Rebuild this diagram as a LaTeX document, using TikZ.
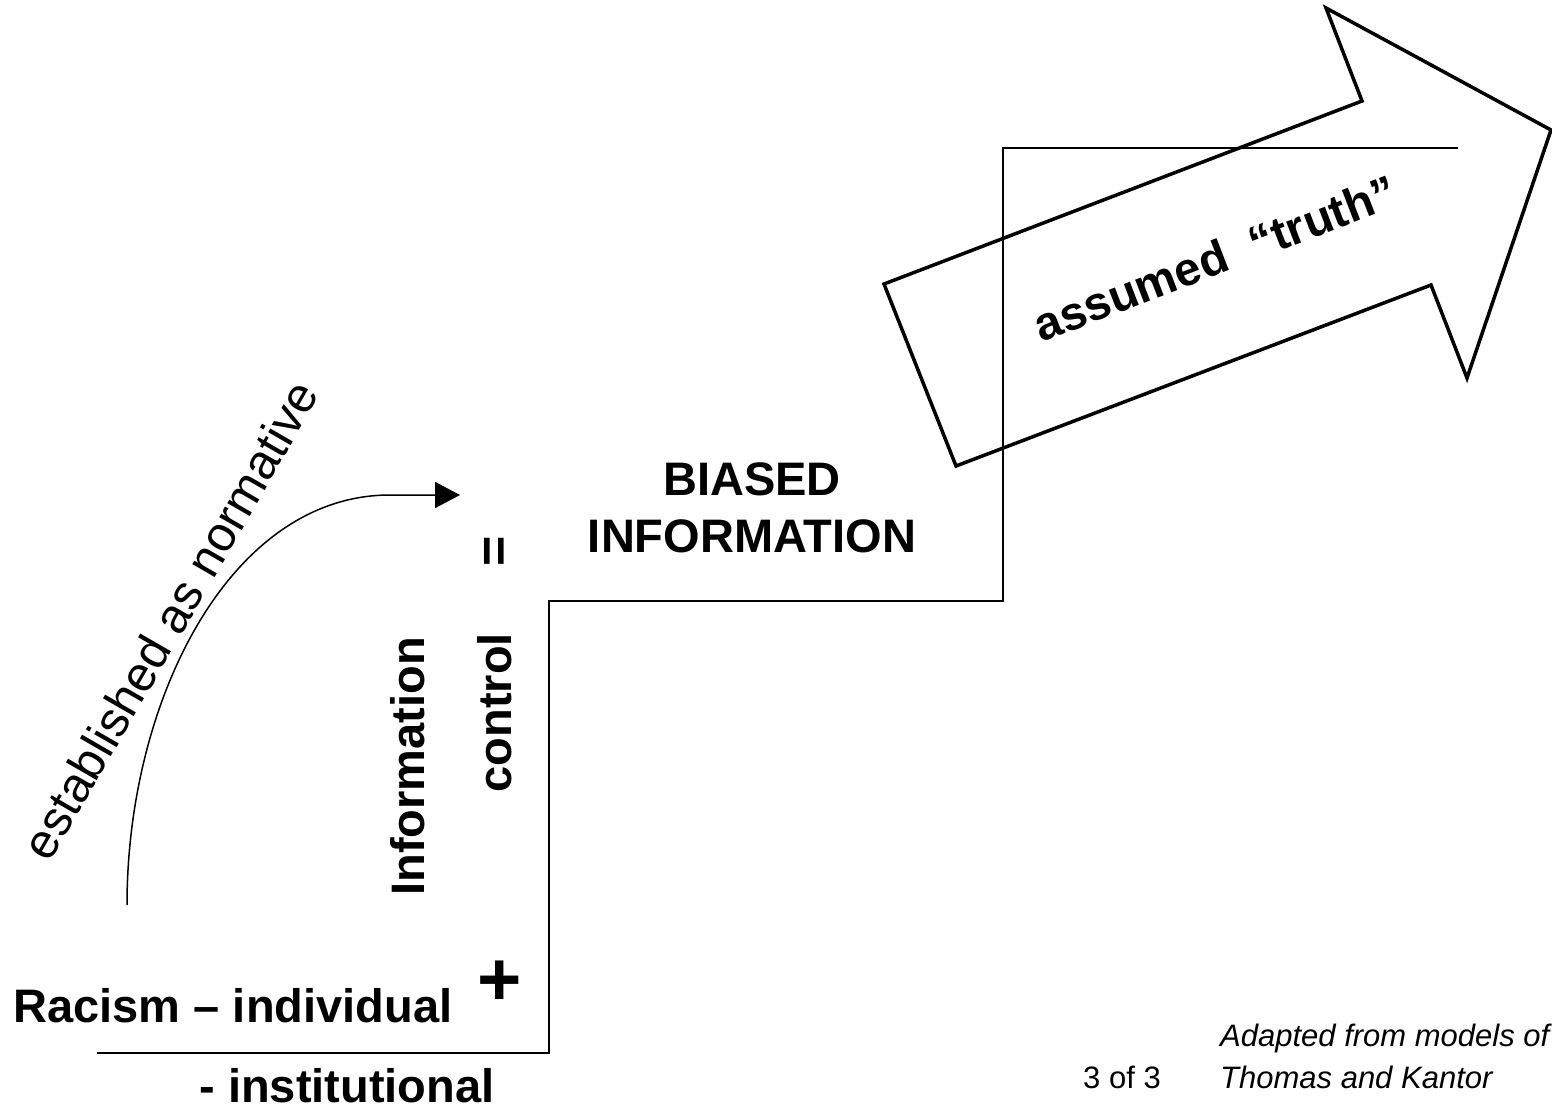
\documentclass[tikz,border=0pt]{standalone}
\usepackage{fontspec}
\setmainfont{Liberation Sans}
\usetikzlibrary{arrows.meta}
\begin{document}
\begin{tikzpicture}[x=1pt,y=-1pt,
  big/.style={font=\fontsize{47}{57}\selectfont\bfseries, inner sep=0pt},
  small/.style={font=\fontsize{31}{42}\selectfont, inner sep=0pt},
  stair/.style={line width=1.6pt},
  bigarrow/.style={line width=3.5pt, line join=miter}]
\useasboundingbox (0,0) rectangle (1552,1111);

% staircase
\coordinate (s0) at (97,1053);
\coordinate (s1) at (549,1053);
\coordinate (s2) at (549,601);
\coordinate (s3) at (1003,601);
\coordinate (s4) at (1003,148);
\coordinate (s5) at (1458,148);
\draw[stair] (s0) -- (s1) -- (s2) -- (s3) -- (s4) -- (s5);

% big arrow
\coordinate (a1) at (884,284);
\coordinate (a2) at (1362,101);
\coordinate (a3) at (1326,8);
\coordinate (a4) at (1551,130);
\coordinate (a5) at (1467,378);
\coordinate (a6) at (1431,285);
\coordinate (a7) at (956,466);
\draw[bigarrow] (a1) -- (a2) -- (a3) -- (a4) -- (a5) -- (a6) -- (a7) -- cycle;
\node[big, rotate=21] (truth) at (1215,258) {assumed\ \ “truth”};

% curved arrow
\coordinate (c0) at (127,905);
\coordinate (c1) at (390,495);
\coordinate (c2) at (460,495);
\draw[line width=1.5pt, -{Triangle[length=25pt,width=26pt]}]
  (c0) .. controls (127,700) and (230,495) .. (c1) -- (c2);
\node[font=\fontsize{49}{56}\selectfont, inner sep=0pt, rotate=60] (norm) at (170,620) {established as normative};

% vertical texts
\node[big, rotate=90, anchor=east] (info) at (408,637) {Information};
\node[big, rotate=90, anchor=east] (ctrl) at (495,633) {control};
\node[font=\fontsize{52}{57}\selectfont\bfseries, inner sep=0pt, rotate=90] (eq) at (498,551) {=};

% biased information
\node[big, align=center] (biased) at (752,508) {BIASED\\INFORMATION};

% racism
\node[big] (racism) at (233,1006) {Racism – individual};
\node[font=\fontsize{76}{80}\selectfont\bfseries, inner sep=0pt] (plus) at (500,983) {+};
\node[big] (inst) at (347,1086) {- institutional};

% footer
\node[small, anchor=base] (page) at (1122,1088) {3 of 3};
\node[small, font=\fontsize{31}{42}\selectfont\itshape, anchor=base west] (adapted) at (1220,1046) {Adapted from models of};
\node[small, font=\fontsize{31}{42}\selectfont\itshape, anchor=base west] (thomas) at (1220,1088) {Thomas and Kantor};
\end{tikzpicture}
\end{document}
